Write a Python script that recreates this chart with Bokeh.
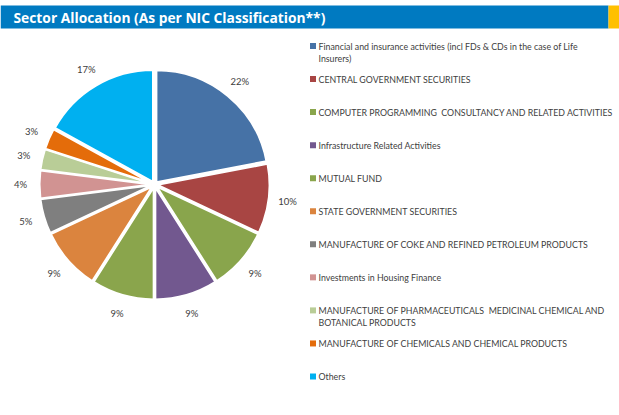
import math
from bokeh.plotting import figure
from bokeh.models import Range1d
from bokeh.core.properties import value
from bokeh.embed import file_html
from bokeh.resources import INLINE

title_text = "Sector Allocation (As per NIC Classification**)"
sectors = [
    "Financial and insurance activities (incl FDs & CDs in the case of Life\nInsurers)",
    "CENTRAL GOVERNMENT SECURITIES",
    "COMPUTER PROGRAMMING \u00a0CONSULTANCY AND RELATED ACTIVITIES",
    "Infrastructure Related Activities",
    "MUTUAL FUND",
    "STATE GOVERNMENT SECURITIES",
    "MANUFACTURE OF COKE AND REFINED PETROLEUM PRODUCTS",
    "Investments in Housing Finance",
    "MANUFACTURE OF PHARMACEUTICALS \u00a0MEDICINAL CHEMICAL AND\nBOTANICAL PRODUCTS",
    "MANUFACTURE OF CHEMICALS AND CHEMICAL PRODUCTS",
    "Others",
]
shares = [22, 10, 9, 9, 9, 9, 5, 4, 3, 3, 17]
colors = ["#4672A6", "#A84543", "#89A54C", "#72588F", "#8AA54C", "#DB843E",
          "#7F7F7F", "#D19392", "#B9CD97", "#E46C0A", "#00B0F0"]

W, H = 619, 415
p = figure(width=W, height=H, x_range=Range1d(0, W), y_range=Range1d(0, H),
           output_backend="svg", toolbar_location=None, min_border=0,
           x_axis_type=None, y_axis_type=None, outline_line_color=None,
           background_fill_color="white", border_fill_color="white")
p.grid.visible = False

def Y(yp):
    return H - yp

# Title bar
p.quad(left=0, right=608, top=Y(5), bottom=Y(28), fill_color="#007AC1", line_color=None)
p.quad(left=608, right=619, top=Y(5), bottom=Y(28), fill_color="#FFC000", line_color=None)
p.text(x=[13], y=[Y(16.5)], text=[title_text], text_color="white",
       text_font=value("Open Sans"), text_font_style="bold", text_font_size="13.8px",
       text_baseline="middle", text_align="left")

# Pie
cx, cy, r, ex, lr = 154, Y(184), 112, 3, 134
total = sum(shares)
cum = 0.0
xs, ys, sa, ea, lx, ly, lt = [], [], [], [], [], [], []
for v in shares:
    a0 = math.radians(90 - cum / total * 360)
    a1 = math.radians(90 - (cum + v) / total * 360)
    m = (a0 + a1) / 2
    xs.append(cx + ex * math.cos(m))
    ys.append(cy + ex * math.sin(m))
    sa.append(a0)
    ea.append(a1)
    lx.append(cx + lr * math.cos(m))
    ly.append(cy + lr * math.sin(m))
    lt.append(f"{v}%")
    cum += v
p.wedge(x=xs, y=ys, radius=r, start_angle=sa, end_angle=ea, direction="clock",
        fill_color=colors, line_color="white", line_width=2)
p.text(x=lx, y=ly, text=lt, text_color="#404040", text_font=value("Lato"),
       text_font_size="9.5px", text_baseline="middle", text_align="center")

# Legend
ly0, dy = 45.5, 33.05
sq_x, tx = 312.5, 318
for i, (name, c) in enumerate(zip(sectors, colors)):
    yp = ly0 + i * dy
    p.rect(x=[sq_x], y=[Y(yp)], width=6, height=6, fill_color=c, line_color=None)
    for j, line in enumerate(name.split("\n")):
        p.text(x=[tx], y=[Y(yp + j * 12.3)], text=[line], text_color="#404040",
               text_font=value("Lato"), text_font_size="8.8px",
               text_baseline="middle", text_align="left")

open("out.html", "w").write(file_html(p, INLINE))
